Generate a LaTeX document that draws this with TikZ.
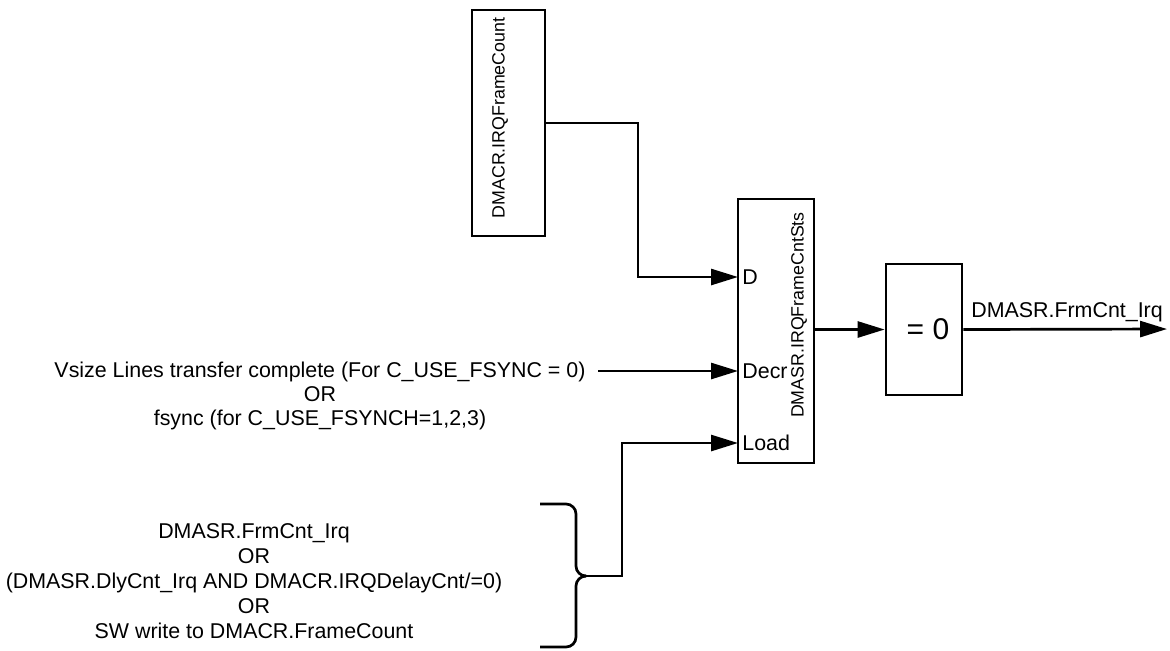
\documentclass[tikz,border=0pt]{standalone}
\usepackage{fontspec}
\setmainfont{Liberation Sans}
\usetikzlibrary{arrows.meta,positioning,calc}

\begin{document}
\begin{tikzpicture}[x=0.5pt,y=-0.5pt,font=\fontsize{10.7}{12}\selectfont,blk/.style={draw,line width=1.35pt,inner sep=0pt},vlbl/.style={rotate=90,inner sep=0pt,font=\fontsize{8.9}{11}\selectfont},port/.style={anchor=west,inner sep=2pt},txt/.style={align=center,inner sep=0pt},wire/.style={line width=1.35pt,rounded corners=5pt},sig/.style={line width=1.35pt,-{Triangle[length=13.5pt,width=8pt]}}]
\useasboundingbox (0,0) rectangle (1170,650);
% registers
\node[blk,minimum width=36.5pt,minimum height=113pt] (frm) at (508.5,123) {};
\node[vlbl] (frmname) at (500,118) {DMACR.IRQFrameCount};
\node[blk,minimum width=38pt,minimum height=132pt] (cnt) at (776,331) {};
\node[vlbl] (cntname) at (799,315) {DMASR.IRQFrameCntSts};
\node[blk,minimum width=38pt,minimum height=65.5pt,font=\fontsize{15}{18}\selectfont] (eqz) at (924,329.5) {\hspace{4pt}= 0};
% ports
\coordinate (pD) at (738,277);
\coordinate (pDecr) at (738,371);
\coordinate (pLoad) at (738,443);
\node[port] (lD) at (pD) {D};
\node[port] (lDecr) at (pDecr) {Decr};
\node[port] (lLoad) at (pLoad) {Load};
% inputs
\node[txt] (vs) at (320,396) {Vsize Lines transfer complete (For C\_USE\_FSYNC = 0)\\OR\\fsync (for C\_USE\_FSYNCH=1,2,3)};
\coordinate (vsEnd) at (598,371);
\node[txt,font=\fontsize{10.7}{12.5}\selectfont] (ld) at (254,581) {DMASR.FrmCnt\_Irq\\OR\\(DMASR.DlyCnt\_Irq AND DMACR.IRQDelayCnt/=0)\\OR\\SW write to DMACR.FrameCount};
% brace
\coordinate (brTop) at (540,504);
\coordinate (brBot) at (540,647);
\coordinate (tip) at (586,576);
\draw[wire] (brTop) -- (576,504) -- (576,576) -- (tip);
\draw[wire] (brBot) -- (576,647) -- (576,576) -- (tip);
% output
\coordinate (outEnd) at (1167,329);
\node[anchor=base,inner sep=0pt] (outlbl) at (1067,317) {DMASR.FrmCnt\_Irq};
% connections
\draw[sig] (frm.east) -| (638,277) -- (pD);
\draw[sig] (vsEnd) -- (pDecr);
\draw[sig] (tip) -| (622,443) -- (pLoad);
\draw[sig] (cnt.east |- eqz.west) -- (eqz.west);
\draw[sig] (eqz.east) -- (outEnd);
\end{tikzpicture}
\end{document}
